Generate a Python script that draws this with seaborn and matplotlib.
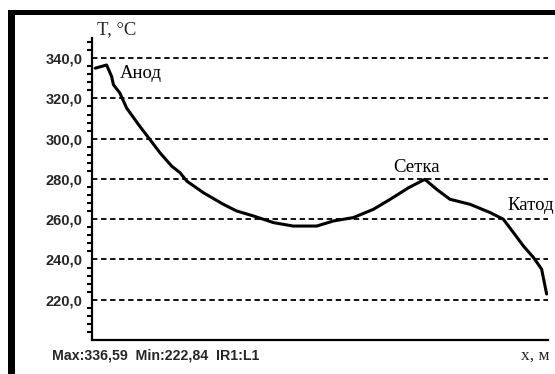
import matplotlib
matplotlib.use("Agg")
import matplotlib.pyplot as plt
import seaborn as sns
import pandas as pd
from matplotlib.patches import Rectangle
from matplotlib.ticker import MultipleLocator, FixedLocator

# ---- data ----
x_pos = [0.007, 0.032, 0.043, 0.047, 0.061, 0.076, 0.102, 0.113, 0.127, 0.149,
         0.175, 0.193, 0.208, 0.244, 0.288, 0.317, 0.354, 0.398, 0.441, 0.493,
         0.529, 0.573, 0.617, 0.654, 0.694, 0.730, 0.756, 0.785, 0.829, 0.873,
         0.902, 0.924, 0.946, 0.968, 0.986, 0.997]
temp = [335.0, 336.59, 330.9, 326.8, 322.7, 315.2, 307.0, 303.7, 299.6, 293.0,
        286.3, 283.1, 278.9, 273.2, 267.4, 264.1, 261.6, 258.3, 256.6, 256.6,
        259.1, 260.8, 264.9, 269.9, 275.6, 279.8, 274.8, 269.9, 267.4, 263.3,
        260.0, 253.4, 246.7, 241.0, 235.2, 222.84]
y_ticks = [200, 220, 240, 260, 280, 300, 320, 340]
y_tick_labels = ["", "220,0", "240,0", "260,0", "280,0", "300,0", "320,0", "340,0"]
annotations = [("Анод", 0.06, 332.5), ("Сетка", 0.66, 285.5), ("Катод", 0.91, 267)]
footer = "Max:336,59  Min:222,84  IR1:L1"

df = pd.DataFrame({"x": x_pos, "T": temp})

sns.set_style("white")
plt.rcParams["font.family"] = ["Liberation Serif", "DejaVu Serif"]

fig = plt.figure(figsize=(5.55, 3.74), dpi=100)
ax = fig.add_axes([92/555, 1-340/374, (548-92)/555, (340-38)/374])

sns.lineplot(data=df, x="x", y="T", ax=ax, color="black", linewidth=2.2)

ax.set_xlim(0, 1)
ax.set_ylim(200, 350)
ax.set_xlabel("")
ax.set_ylabel("")
ax.set_xticks([])
ax.yaxis.set_major_locator(FixedLocator(y_ticks))
ax.set_yticklabels(y_tick_labels, fontfamily="Liberation Sans", fontweight="bold", fontsize=10.5)
ax.yaxis.set_minor_locator(MultipleLocator(4))
ax.tick_params(axis="y", which="major", direction="out", length=7, width=1.5, color="black", pad=0)
ax.tick_params(axis="y", which="minor", direction="out", length=3.5, width=1.5, color="black", left=True)

for v in y_ticks[1:]:
    ax.axhline(v, color="black", linewidth=1.3, linestyle=(0, (3, 2)), zorder=1)

for s in ["top", "right"]:
    ax.spines[s].set_visible(False)
for s in ["left", "bottom"]:
    ax.spines[s].set_color("black")
    ax.spines[s].set_linewidth(1.6)

for label, xv, yv in annotations:
    ax.text(xv, yv, label, fontsize=13.5, color="black", ha="left", va="center",
            clip_on=False)

fig.text(97/555, 1-30/374, "T, °C", fontsize=13.5, ha="left", va="center")
fig.text(521/555, 1-356/374, "x, м", fontsize=12.5, ha="left", va="center")
fig.text(52/555, 1-356/374, footer, fontsize=10.2, fontfamily="Liberation Sans",
         fontweight="bold", ha="left", va="center")

# black frame (left and top bars)
fig.patches.append(Rectangle((8/555, 0), 7/555, 1-10/374, transform=fig.transFigure,
                             facecolor="black", edgecolor="none"))
fig.patches.append(Rectangle((8/555, 1-15/374), 1, 5/374, transform=fig.transFigure,
                             facecolor="black", edgecolor="none"))

fig.savefig("out.png", dpi=100, facecolor="white")
